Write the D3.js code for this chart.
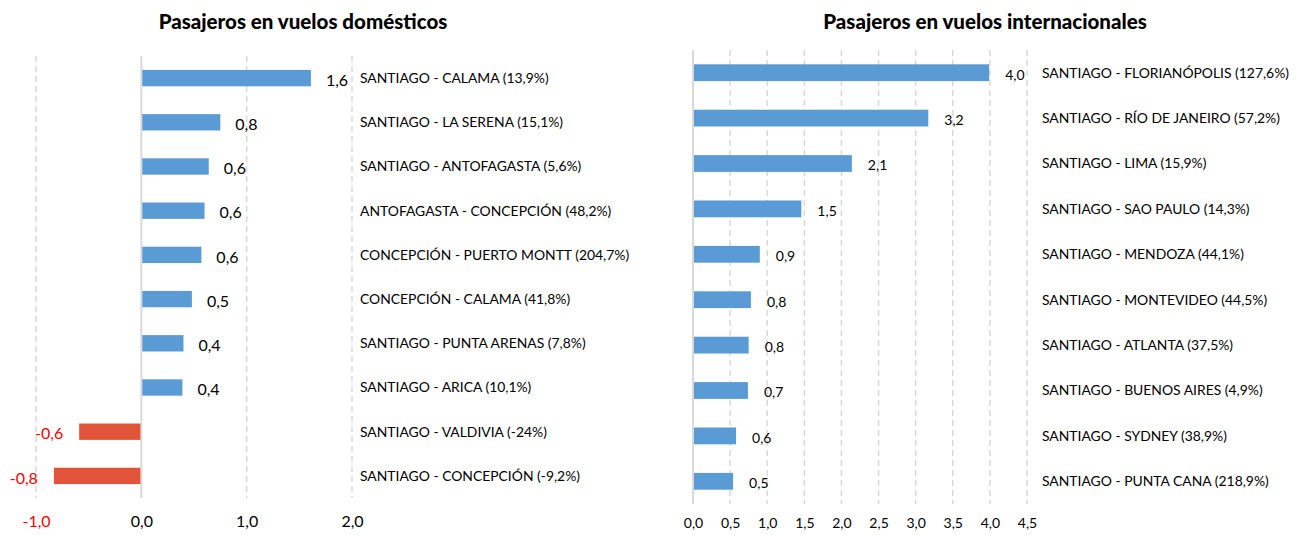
<!DOCTYPE html>
<html>
<head>
<meta charset="utf-8">
<script src="https://cdn.jsdelivr.net/npm/d3@7"></script>
<style>
  body { margin: 0; background: #fff; font-family: Lato, "Open Sans", sans-serif; }
  svg text { font-family: Lato, "Open Sans", sans-serif; }
</style>
</head>
<body>
<div id="plot"></div>
<script>
// Domestic routes
const domRoutes = [
  "SANTIAGO - CALAMA (13,9%)",
  "SANTIAGO - LA SERENA (15,1%)",
  "SANTIAGO - ANTOFAGASTA (5,6%)",
  "ANTOFAGASTA - CONCEPCIÓN (48,2%)",
  "CONCEPCIÓN - PUERTO MONTT (204,7%)",
  "CONCEPCIÓN - CALAMA (41,8%)",
  "SANTIAGO - PUNTA ARENAS (7,8%)",
  "SANTIAGO - ARICA (10,1%)",
  "SANTIAGO - VALDIVIA (-24%)",
  "SANTIAGO - CONCEPCIÓN (-9,2%)"
];
const domValues = [1.61, 0.75, 0.64, 0.60, 0.57, 0.48, 0.40, 0.39, -0.59, -0.83];
const domTicks = [-1, 0, 1, 2];

// International routes
const intRoutes = [
  "SANTIAGO - FLORIANÓPOLIS (127,6%)",
  "SANTIAGO - RÍO DE JANEIRO (57,2%)",
  "SANTIAGO - LIMA (15,9%)",
  "SANTIAGO - SAO PAULO (14,3%)",
  "SANTIAGO - MENDOZA (44,1%)",
  "SANTIAGO - MONTEVIDEO (44,5%)",
  "SANTIAGO - ATLANTA (37,5%)",
  "SANTIAGO - BUENOS AIRES (4,9%)",
  "SANTIAGO - SYDNEY (38,9%)",
  "SANTIAGO - PUNTA CANA (218,9%)"
];
const intValues = [3.99, 3.17, 2.14, 1.46, 0.90, 0.78, 0.75, 0.74, 0.58, 0.54];
const intTicks = [0, 0.5, 1, 1.5, 2, 2.5, 3, 3.5, 4, 4.5];

const W = 1303, H = 535;
const blue = "#5B9BD5", red = "#E15439", grid = "#D9D9D9";
const fmt = v => d3.format(".1f")(v).replace(".", ",").replace("−", "-");

const svg = d3.select("#plot").append("svg")
  .attr("width", W)
  .attr("height", H);

function drawChart(opt) {
  const xScale = d3.scaleLinear().domain(opt.domain).range(opt.xRange);
  const yScale = d3.scaleBand().domain(opt.routes).range(opt.yRange).paddingInner(0.63).paddingOuter(0.315);
  const data = opt.routes.map((r, i) => ({ route: r, value: opt.values[i] }));

  const g = svg.append("g");

  // title
  g.append("text")
    .attr("x", opt.titleX)
    .attr("y", 29)
    .attr("text-anchor", "middle")
    .attr("font-size", 20.5)
    .attr("font-weight", 900)
    .attr("fill", "#000")
    .text(opt.title);

  // dashed gridlines
  g.selectAll(".grid")
    .data(opt.ticks.filter(t => t !== 0))
    .join("line")
    .attr("x1", d => xScale(d))
    .attr("x2", d => xScale(d))
    .attr("y1", opt.yRange[0])
    .attr("y2", opt.yRange[1])
    .attr("stroke", grid)
    .attr("stroke-width", 1.5)
    .attr("stroke-dasharray", "6,4");

  // bars
  g.selectAll(".bar")
    .data(data)
    .join("rect")
    .attr("x", d => xScale(Math.min(0, d.value)))
    .attr("width", d => Math.abs(xScale(d.value) - xScale(0)))
    .attr("y", d => yScale(d.route))
    .attr("height", yScale.bandwidth())
    .attr("fill", d => d.value < 0 ? red : blue);

  // zero axis
  g.append("line")
    .attr("x1", xScale(0))
    .attr("x2", xScale(0))
    .attr("y1", opt.yRange[0])
    .attr("y2", opt.yRange[1])
    .attr("stroke", grid)
    .attr("stroke-width", 2);

  // value labels
  g.selectAll(".val")
    .data(data)
    .join("text")
    .attr("x", d => d.value < 0 ? xScale(d.value) - 16 : xScale(d.value) + opt.labelGap)
    .attr("y", d => yScale(d.route) + yScale.bandwidth() / 2 + 2)
    .attr("dy", "0.35em")
    .attr("text-anchor", d => d.value < 0 ? "end" : "start")
    .attr("font-size", opt.valueSize)
    .attr("fill", d => d.value < 0 ? "#FF0000" : "#000")
    .text(d => fmt(d.value));

  // route labels
  g.selectAll(".route")
    .data(data)
    .join("text")
    .attr("x", opt.routeX)
    .attr("y", d => yScale(d.route) + yScale.bandwidth() / 2)
    .attr("dy", "0.35em")
    .attr("font-size", 13.9)
    .attr("fill", "#000")
    .text(d => d.route);

  // x axis
  const axis = g.append("g")
    .attr("transform", "translate(0," + opt.axisY + ")")
    .call(d3.axisBottom(xScale).tickValues(opt.ticks).tickFormat(fmt).tickSize(0));
  axis.select(".domain").remove();
  axis.selectAll("text")
    .attr("font-size", opt.tickSize)
    .attr("font-family", "Lato, sans-serif")
    .attr("fill", d => d < 0 ? "#FF0000" : "#000");
}

drawChart({
  title: "Pasajeros en vuelos domésticos",
  titleX: 303,
  routes: domRoutes,
  values: domValues,
  ticks: domTicks,
  domain: [-1, 2],
  xRange: [36, 352],
  yRange: [56, 498],
  routeX: 360,
  labelGap: 15,
  valueSize: 16,
  tickSize: 16,
  axisY: 513
});

drawChart({
  title: "Pasajeros en vuelos internacionales",
  titleX: 985,
  routes: intRoutes,
  values: intValues,
  ticks: intTicks,
  domain: [0, 4.5],
  xRange: [693, 1027],
  yRange: [50, 504],
  routeX: 1042,
  labelGap: 16,
  valueSize: 14,
  tickSize: 14,
  axisY: 515
});
</script>
</body>
</html>
